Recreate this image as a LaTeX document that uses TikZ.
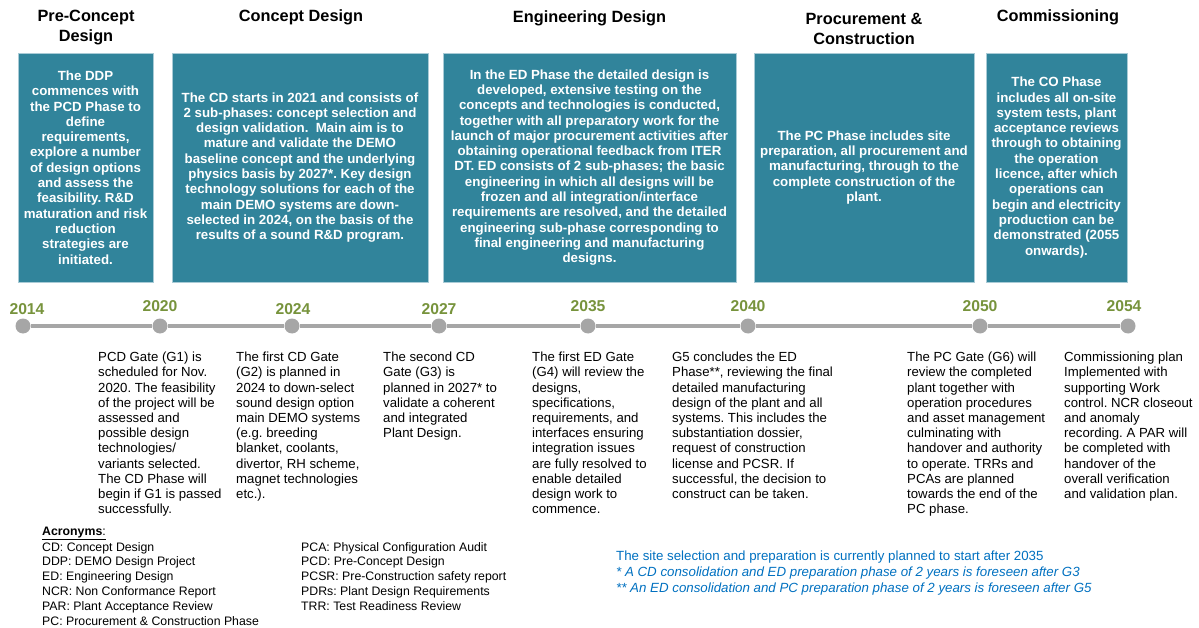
\documentclass[tikz,border=0pt]{standalone}
\usepackage{fontspec}
\setmainfont{Liberation Sans}
\frenchspacing
\definecolor{boxteal}{HTML}{31849B}
\definecolor{boxedge}{HTML}{A9CBD6}
\definecolor{yeargreen}{HTML}{77933C}
\definecolor{tlgrey}{HTML}{A6A6A6}
\definecolor{noteblue}{HTML}{0070C0}
\tikzset{
  phasebox/.style={fill=boxteal, draw=boxedge, line width=0.8pt, inner sep=0pt,
    text=white, font=\fontsize{13.3}{15.3}\selectfont\bfseries, align=center},
  phasetitle/.style={font=\fontsize{16.3}{20}\selectfont\bfseries, align=center, inner sep=0pt},
  yearlabel/.style={text=yeargreen, font=\fontsize{15.7}{18}\selectfont\bfseries, inner sep=0pt},
  tldot/.style={circle, fill=tlgrey, minimum size=15pt, inner sep=0pt},
  tlline/.style={draw=tlgrey, line width=4.5pt},
  desc/.style={font=\fontsize{13.2}{15.2}\selectfont, align=left, anchor=north west, inner sep=0pt},
  acro/.style={font=\fontsize{12.3}{14.8}\selectfont, align=left, anchor=north west, inner sep=0pt},
  footnote/.style={text=noteblue, font=\fontsize{13.3}{15.7}\selectfont, align=left, anchor=north west, inner sep=0pt}
}
\begin{document}
\begin{tikzpicture}[x=1pt,y=-1pt]
\useasboundingbox (0,0) rectangle (1199,628);

% titles
\node[phasetitle] (t1) at (86,27.5) {Pre-Concept\\Design};
\node[phasetitle] (t2) at (301,17.5) {Concept Design};
\node[phasetitle] (t3) at (589.5,18.5) {Engineering Design};
\node[phasetitle] (t4) at (864,28.5) {Procurement \&\\Construction};
\node[phasetitle] (t5) at (1058,17.5) {Commissioning};

% phase boxes
\node[phasebox, minimum width=135pt, minimum height=229pt] (b1) at (85.5,167.5)
 {The DDP\\commences with\\the PCD Phase to\\define\\requirements,\\explore a number\\of design options\\and assess the\\feasibility. R\&D\\maturation and risk\\reduction\\strategies are\\initiated.};
\node[phasebox, minimum width=256pt, minimum height=229pt] (b2) at (300,167.5)
 {The CD starts in 2021 and consists of\\2 sub-phases: concept selection and\\design validation.~ Main aim is to\\mature and validate the DEMO\\baseline concept and the underlying\\physics basis by 2027*. Key design\\technology solutions for each of the\\main DEMO systems are down-\\selected in 2024, on the basis of the\\results of a sound R\&D program.};
\node[phasebox, minimum width=293pt, minimum height=229pt] (b3) at (589.5,167.5)
 {In the ED Phase the detailed design is\\developed, extensive testing on the\\concepts and technologies is conducted,\\together with all preparatory work for the\\launch of major procurement activities after\\obtaining operational feedback from ITER\\DT. ED consists of 2 sub-phases; the basic\\engineering in which all designs will be\\frozen and all integration/interface\\requirements are resolved, and the detailed\\engineering sub-phase corresponding to\\final engineering and manufacturing\\designs.};
\node[phasebox, minimum width=220pt, minimum height=229pt] (b4) at (864,167.5)
 {The PC Phase includes site\\preparation, all procurement and\\manufacturing, through to the\\complete construction of the\\plant.};
\node[phasebox, minimum width=141pt, minimum height=229pt] (b5) at (1056.5,167.5)
 {The CO Phase\\includes all on-site\\system tests, plant\\acceptance reviews\\through to obtaining\\the operation\\licence, after which\\operations can\\begin and electricity\\production can be\\demonstrated (2055\\onwards).};

% timeline dots
\node[tldot] (d2014) at (23,326) {};
\node[tldot] (d2020) at (160,326) {};
\node[tldot] (d2024) at (292,326) {};
\node[tldot] (d2027) at (439,326) {};
\node[tldot] (d2035) at (588,326) {};
\node[tldot] (d2040) at (748,326) {};
\node[tldot] (d2050) at (980,326) {};
\node[tldot] (d2054) at (1128,326) {};
\draw[tlline] (d2014) -- (d2020);
\draw[tlline] (d2020) -- (d2024);
\draw[tlline] (d2024) -- (d2027);
\draw[tlline] (d2027) -- (d2035);
\draw[tlline] (d2035) -- (d2040);
\draw[tlline] (d2040) -- (d2050);
\draw[tlline] (d2050) -- (d2054);

% years
\node[yearlabel] (y2014) at (27,309) {2014};
\node[yearlabel] (y2020) at (160,306) {2020};
\node[yearlabel] (y2024) at (293,309) {2024};
\node[yearlabel] (y2027) at (439,309) {2027};
\node[yearlabel] (y2035) at (588,306) {2035};
\node[yearlabel] (y2040) at (748,306) {2040};
\node[yearlabel] (y2050) at (980,306) {2050};
\node[yearlabel] (y2054) at (1124,306) {2054};

% gate descriptions
\node[desc] (g1) at (98,352) {PCD Gate (G1) is\\scheduled for Nov.\\2020. The feasibility\\of the project will be\\assessed and\\possible design\\technologies/\\variants selected.\\The CD Phase will\\begin if G1 is passed\\successfully.};
\node[desc] (g2) at (236,352) {The first CD Gate\\(G2) is planned in\\2024 to down-select\\sound design option\\main DEMO systems\\(e.g. breeding\\blanket, coolants,\\divertor, RH scheme,\\magnet technologies\\etc.).};
\node[desc] (g3) at (383,352) {The second CD\\Gate (G3) is\\planned in 2027* to\\validate a coherent\\and integrated\\Plant Design.};
\node[desc] (g4) at (532,352) {The first ED Gate\\(G4) will review the\\designs,\\specifications,\\requirements, and\\interfaces ensuring\\integration issues\\are fully resolved to\\enable detailed\\design work to\\commence.};
\node[desc] (g5) at (672,352) {G5 concludes the ED\\Phase**, reviewing the final\\detailed manufacturing\\design of the plant and all\\systems. This includes the\\substantiation dossier,\\request of construction\\license and PCSR. If\\successful, the decision to\\construct can be taken.};
\node[desc] (g6) at (907,352) {The PC Gate (G6) will\\review the completed\\plant together with\\operation procedures\\and asset management\\culminating with\\handover and authority\\to operate. TRRs and\\PCAs are planned\\towards the end of the\\PC phase.};
\node[desc] (g7) at (1064,352) {Commissioning plan\\Implemented with\\supporting Work\\control. NCR closeout\\and anomaly\\recording. A PAR will\\be completed with\\handover of the\\overall verification\\and validation plan.};

% acronyms
\node[acro, anchor=base west] (acrohead) at (42,535) {\underline{\textbf{Acronyms}:}};
\node[acro] (acro1) at (42,542) {CD: Concept Design\\DDP: DEMO Design Project\\ED: Engineering Design\\NCR: Non Conformance Report\\PAR: Plant Acceptance Review\\PC: Procurement \& Construction Phase};
\node[acro] (acro2) at (301,542) {PCA: Physical Configuration Audit\\PCD: Pre-Concept Design\\PCSR: Pre-Construction safety report\\PDRs: Plant Design Requirements\\TRR: Test Readiness Review};

% footnotes
\node[footnote] (notes) at (616,551) {The site selection and preparation is currently planned to start after 2035\\\textit{* A CD consolidation and ED preparation phase of 2 years is foreseen after G3}\\\textit{** An ED consolidation and PC preparation phase of 2 years is foreseen after G5}};
\end{tikzpicture}
\end{document}
